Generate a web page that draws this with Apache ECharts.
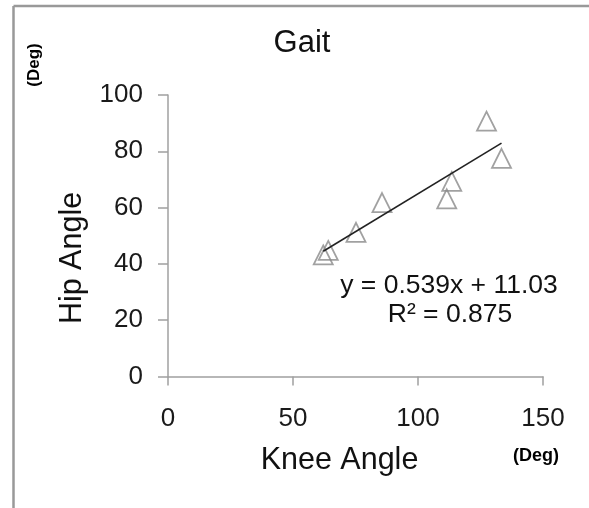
<!DOCTYPE html>
<html>
<head>
<meta charset="utf-8">
<script src="https://cdn.jsdelivr.net/npm/echarts@6/dist/echarts.min.js"></script>
<style>
  html, body { margin: 0; padding: 0; background: #fff; }
  #chart { width: 589px; height: 508px; }
</style>
</head>
<body>
<div id="chart"></div>
<script>
// knee / hip angles (deg)
const kneeAngle = [127.4, 133.4, 113.5, 111.5, 85.6, 75.2, 64.1, 62.1];
const hipAngle  = [90.7, 77.5, 69.3, 63.1, 61.8, 51.2, 44.8, 43.2];
// trend line end points (from y = 0.539x + 11.03)
const trendX = [62.1, 133.4];
const trendY = [44.5, 82.9];
const xTicks = [0, 150, 50];   // min, max, interval
const yTicks = [0, 100, 20];

const FONT = '"Liberation Sans", Arial, sans-serif';

const chart = echarts.init(document.getElementById('chart'));

const points = kneeAngle.map((x, i) => [x, hipAngle[i]]);
const trend = trendX.map((x, i) => [x, trendY[i]]);

chart.setOption({
  animation: false,
  backgroundColor: '#fff',
  grid: { left: 168, right: 46, top: 95, bottom: 131.5, containLabel: false },
  xAxis: {
    type: 'value',
    min: xTicks[0], max: xTicks[1], interval: xTicks[2],
    splitLine: { show: false },
    axisLine: { show: true, onZero: false, lineStyle: { color: '#a0a0a0', width: 1.5 } },
    axisTick: { show: true, inside: false, length: 9, lineStyle: { color: '#a0a0a0', width: 1.5 } },
    axisLabel: { margin: 29, fontSize: 26, color: '#1a1a1a', fontFamily: FONT }
  },
  yAxis: {
    type: 'value',
    min: yTicks[0], max: yTicks[1], interval: yTicks[2],
    splitLine: { show: false },
    axisLine: { show: true, onZero: false, lineStyle: { color: '#a0a0a0', width: 1.5 } },
    axisTick: { show: true, inside: false, length: 10, lineStyle: { color: '#a0a0a0', width: 1.5 } },
    axisLabel: { margin: 25, fontSize: 26, color: '#1a1a1a', fontFamily: FONT }
  },
  series: [
    {
      type: 'scatter',
      data: points,
      symbol: 'triangle',
      symbolSize: 19,
      itemStyle: { color: 'rgba(255,255,255,0)', borderColor: '#8a8a8a', borderWidth: 1.8 },
      z: 2
    },
    {
      type: 'line',
      data: trend,
      symbol: 'none',
      lineStyle: { color: '#222', width: 1.6 },
      z: 3
    }
  ],
  graphic: [
    // frame (top and left only)
    { type: 'line', shape: { x1: 13.5, y1: 6, x2: 589, y2: 6 }, style: { stroke: '#999', lineWidth: 2.5 } },
    { type: 'line', shape: { x1: 13.5, y1: 6, x2: 13.5, y2: 508 }, style: { stroke: '#999', lineWidth: 2.5 } },
    { type: 'text', x: 302, y: 43, style: { text: 'Gait', font: '31px ' + FONT, fill: '#111', textAlign: 'center', textVerticalAlign: 'middle' } },
    { type: 'text', x: 449, y: 286, style: { text: 'y = 0.539x + 11.03', font: '26.5px ' + FONT, fill: '#111', textAlign: 'center', textVerticalAlign: 'middle' } },
    { type: 'text', x: 450, y: 315, style: { text: 'R² = 0.875', font: '26.5px ' + FONT, fill: '#111', textAlign: 'center', textVerticalAlign: 'middle' } },
    { type: 'text', x: 339.5, y: 461, style: { text: 'Knee Angle', font: '30.5px ' + FONT, fill: '#111', textAlign: 'center', textVerticalAlign: 'middle' } },
    { type: 'text', x: 73, y: 258, rotation: Math.PI / 2, style: { text: 'Hip Angle', font: '30.5px ' + FONT, fill: '#111', textAlign: 'center', textVerticalAlign: 'middle' } },
    { type: 'text', x: 536, y: 456, style: { text: '(Deg)', font: 'bold 18px ' + FONT, fill: '#000', textAlign: 'center', textVerticalAlign: 'middle' } },
    { type: 'text', x: 34.5, y: 65, rotation: Math.PI / 2, style: { text: '(Deg)', font: 'bold 17px ' + FONT, fill: '#000', textAlign: 'center', textVerticalAlign: 'middle' } }
  ]
});
</script>
</body>
</html>
